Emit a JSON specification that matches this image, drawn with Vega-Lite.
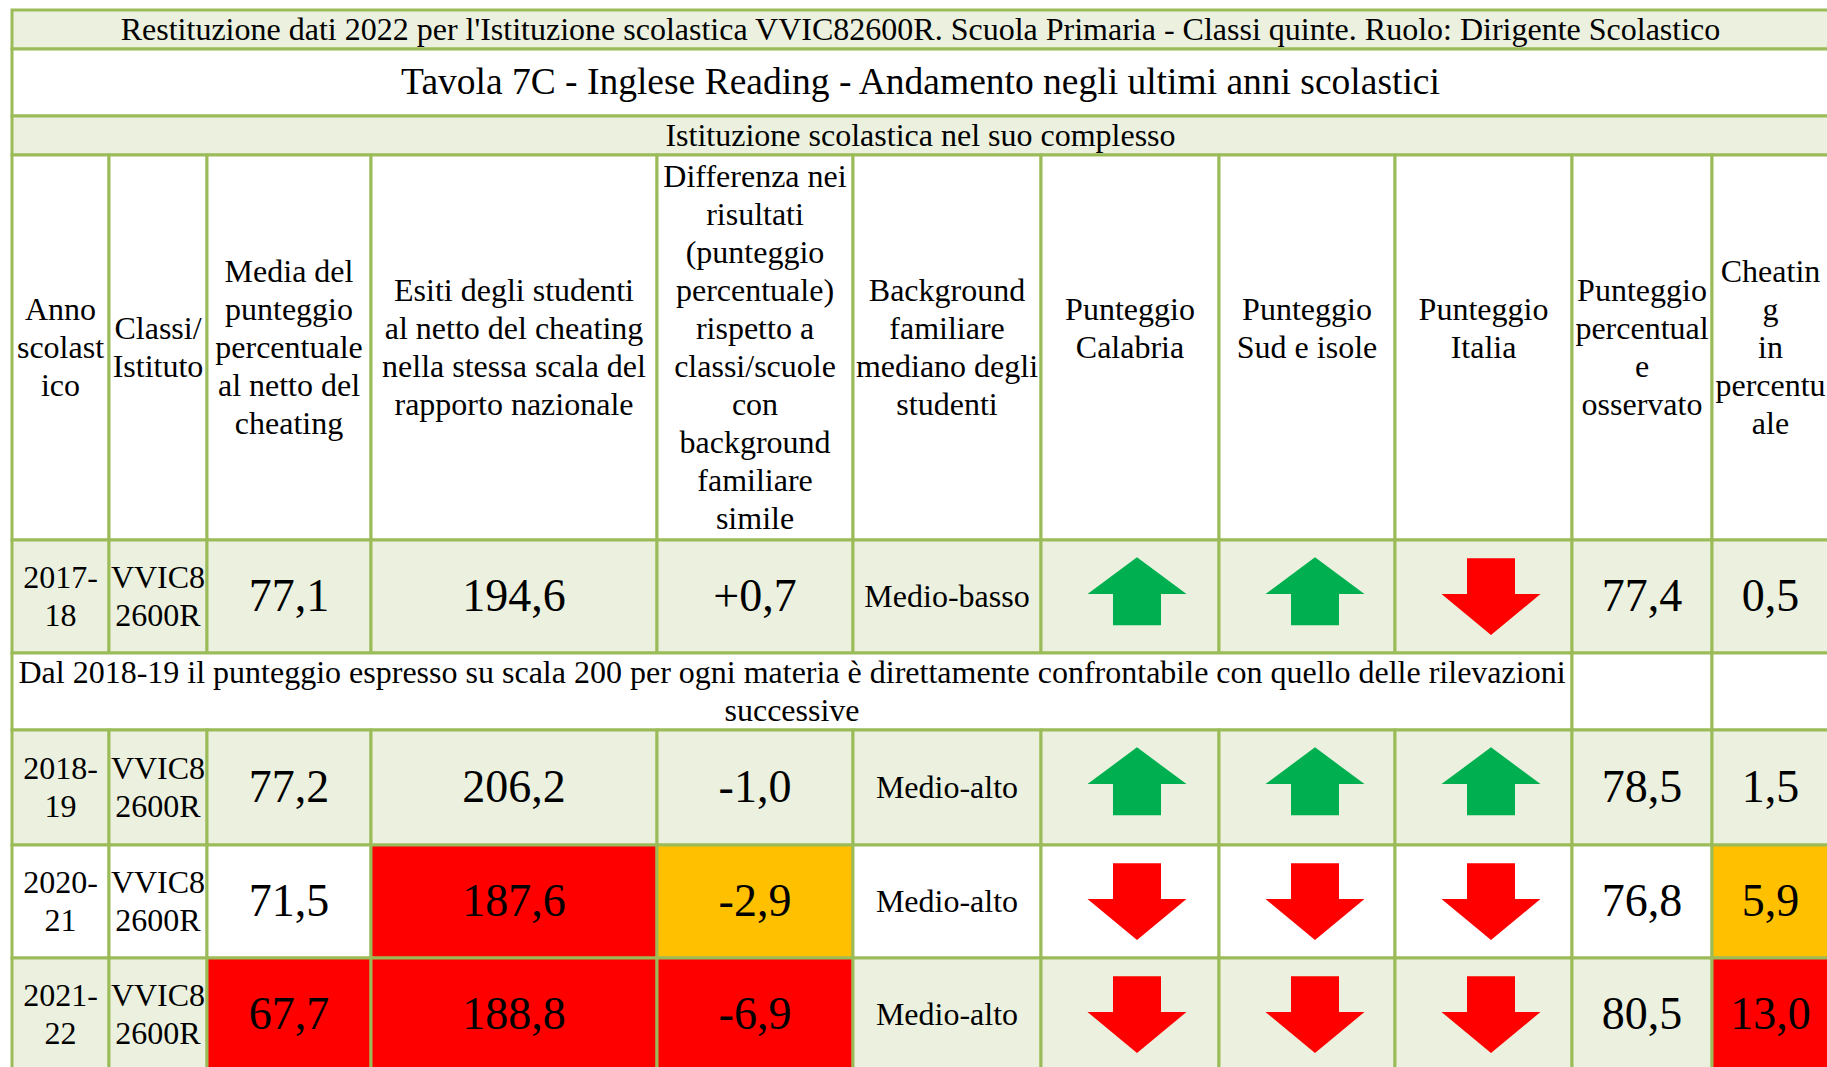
{
  "$schema": "https://vega.github.io/schema/vega-lite/v6.json",
  "width": 1827,
  "height": 1067,
  "padding": 0,
  "autosize": "none",
  "background": "white",
  "config": {"view": {"stroke": null}},
  "datasets": {
    "cells": [
      {"c0": 0, "c1": 11, "r0": 0, "r1": 1, "fill": "g", "kind": "title", "text": "Restituzione dati 2022 per l'Istituzione scolastica VVIC82600R. Scuola Primaria - Classi quinte. Ruolo: Dirigente Scolastico"},
      {"c0": 0, "c1": 11, "r0": 1, "r1": 2, "fill": "w", "kind": "tavola", "text": "Tavola 7C - Inglese Reading - Andamento negli ultimi anni scolastici"},
      {"c0": 0, "c1": 11, "r0": 2, "r1": 3, "fill": "g", "kind": "section", "text": "Istituzione scolastica nel suo complesso"},
      {"c0": 0, "c1": 1, "r0": 3, "r1": 4, "fill": "w", "kind": "header", "text": "Anno\nscolast\nico"},
      {"c0": 1, "c1": 2, "r0": 3, "r1": 4, "fill": "w", "kind": "header", "text": "Classi/\nIstituto"},
      {"c0": 2, "c1": 3, "r0": 3, "r1": 4, "fill": "w", "kind": "header", "text": "Media del\npunteggio\npercentuale\nal netto del\ncheating"},
      {"c0": 3, "c1": 4, "r0": 3, "r1": 4, "fill": "w", "kind": "header", "text": "Esiti degli studenti\nal netto del cheating\nnella stessa scala del\nrapporto nazionale"},
      {"c0": 4, "c1": 5, "r0": 3, "r1": 4, "fill": "w", "kind": "header", "text": "Differenza nei\nrisultati\n(punteggio\npercentuale)\nrispetto a\nclassi/scuole\ncon\nbackground\nfamiliare\nsimile"},
      {"c0": 5, "c1": 6, "r0": 3, "r1": 4, "fill": "w", "kind": "header", "text": "Background\nfamiliare\nmediano degli\nstudenti"},
      {"c0": 6, "c1": 7, "r0": 3, "r1": 4, "fill": "w", "kind": "header", "text": "Punteggio\nCalabria\n "},
      {"c0": 7, "c1": 8, "r0": 3, "r1": 4, "fill": "w", "kind": "header", "text": "Punteggio\nSud e isole\n "},
      {"c0": 8, "c1": 9, "r0": 3, "r1": 4, "fill": "w", "kind": "header", "text": "Punteggio\nItalia\n "},
      {"c0": 9, "c1": 10, "r0": 3, "r1": 4, "fill": "w", "kind": "header", "text": "Punteggio\npercentual\ne\nosservato"},
      {"c0": 10, "c1": 11, "r0": 3, "r1": 4, "fill": "w", "kind": "header", "text": "Cheatin\ng\nin\npercentu\nale"},

      {"c0": 0, "c1": 1, "r0": 4, "r1": 5, "fill": "g", "kind": "label", "text": "2017-\n18"},
      {"c0": 1, "c1": 2, "r0": 4, "r1": 5, "fill": "g", "kind": "label", "text": "VVIC8\n2600R"},
      {"c0": 2, "c1": 3, "r0": 4, "r1": 5, "fill": "g", "kind": "value", "text": "77,1"},
      {"c0": 3, "c1": 4, "r0": 4, "r1": 5, "fill": "g", "kind": "value", "text": "194,6"},
      {"c0": 4, "c1": 5, "r0": 4, "r1": 5, "fill": "g", "kind": "value", "text": "+0,7"},
      {"c0": 5, "c1": 6, "r0": 4, "r1": 5, "fill": "g", "kind": "label", "text": "Medio-basso"},
      {"c0": 6, "c1": 7, "r0": 4, "r1": 5, "fill": "g", "arrow": "up"},
      {"c0": 7, "c1": 8, "r0": 4, "r1": 5, "fill": "g", "arrow": "up"},
      {"c0": 8, "c1": 9, "r0": 4, "r1": 5, "fill": "g", "arrow": "down"},
      {"c0": 9, "c1": 10, "r0": 4, "r1": 5, "fill": "g", "kind": "value", "text": "77,4"},
      {"c0": 10, "c1": 11, "r0": 4, "r1": 5, "fill": "g", "kind": "value", "text": "0,5"},

      {"c0": 0, "c1": 9, "r0": 5, "r1": 6, "fill": "w", "kind": "label", "text": "Dal 2018-19 il punteggio espresso su scala 200 per ogni materia è direttamente confrontabile con quello delle rilevazioni\nsuccessive"},
      {"c0": 9, "c1": 10, "r0": 5, "r1": 6, "fill": "w"},
      {"c0": 10, "c1": 11, "r0": 5, "r1": 6, "fill": "w"},

      {"c0": 0, "c1": 1, "r0": 6, "r1": 7, "fill": "g", "kind": "label", "text": "2018-\n19"},
      {"c0": 1, "c1": 2, "r0": 6, "r1": 7, "fill": "g", "kind": "label", "text": "VVIC8\n2600R"},
      {"c0": 2, "c1": 3, "r0": 6, "r1": 7, "fill": "g", "kind": "value", "text": "77,2"},
      {"c0": 3, "c1": 4, "r0": 6, "r1": 7, "fill": "g", "kind": "value", "text": "206,2"},
      {"c0": 4, "c1": 5, "r0": 6, "r1": 7, "fill": "g", "kind": "value", "text": "-1,0"},
      {"c0": 5, "c1": 6, "r0": 6, "r1": 7, "fill": "g", "kind": "label", "text": "Medio-alto"},
      {"c0": 6, "c1": 7, "r0": 6, "r1": 7, "fill": "g", "arrow": "up"},
      {"c0": 7, "c1": 8, "r0": 6, "r1": 7, "fill": "g", "arrow": "up"},
      {"c0": 8, "c1": 9, "r0": 6, "r1": 7, "fill": "g", "arrow": "up"},
      {"c0": 9, "c1": 10, "r0": 6, "r1": 7, "fill": "g", "kind": "value", "text": "78,5"},
      {"c0": 10, "c1": 11, "r0": 6, "r1": 7, "fill": "g", "kind": "value", "text": "1,5"},

      {"c0": 0, "c1": 1, "r0": 7, "r1": 8, "fill": "w", "kind": "label", "text": "2020-\n21"},
      {"c0": 1, "c1": 2, "r0": 7, "r1": 8, "fill": "w", "kind": "label", "text": "VVIC8\n2600R"},
      {"c0": 2, "c1": 3, "r0": 7, "r1": 8, "fill": "w", "kind": "value", "text": "71,5"},
      {"c0": 3, "c1": 4, "r0": 7, "r1": 8, "fill": "r", "kind": "value", "text": "187,6"},
      {"c0": 4, "c1": 5, "r0": 7, "r1": 8, "fill": "o", "kind": "value", "text": "-2,9"},
      {"c0": 5, "c1": 6, "r0": 7, "r1": 8, "fill": "w", "kind": "label", "text": "Medio-alto"},
      {"c0": 6, "c1": 7, "r0": 7, "r1": 8, "fill": "w", "arrow": "down"},
      {"c0": 7, "c1": 8, "r0": 7, "r1": 8, "fill": "w", "arrow": "down"},
      {"c0": 8, "c1": 9, "r0": 7, "r1": 8, "fill": "w", "arrow": "down"},
      {"c0": 9, "c1": 10, "r0": 7, "r1": 8, "fill": "w", "kind": "value", "text": "76,8"},
      {"c0": 10, "c1": 11, "r0": 7, "r1": 8, "fill": "o", "kind": "value", "text": "5,9"},

      {"c0": 0, "c1": 1, "r0": 8, "r1": 9, "fill": "g", "kind": "label", "text": "2021-\n22"},
      {"c0": 1, "c1": 2, "r0": 8, "r1": 9, "fill": "g", "kind": "label", "text": "VVIC8\n2600R"},
      {"c0": 2, "c1": 3, "r0": 8, "r1": 9, "fill": "r", "kind": "value", "text": "67,7"},
      {"c0": 3, "c1": 4, "r0": 8, "r1": 9, "fill": "r", "kind": "value", "text": "188,8"},
      {"c0": 4, "c1": 5, "r0": 8, "r1": 9, "fill": "r", "kind": "value", "text": "-6,9"},
      {"c0": 5, "c1": 6, "r0": 8, "r1": 9, "fill": "g", "kind": "label", "text": "Medio-alto"},
      {"c0": 6, "c1": 7, "r0": 8, "r1": 9, "fill": "g", "arrow": "down"},
      {"c0": 7, "c1": 8, "r0": 8, "r1": 9, "fill": "g", "arrow": "down"},
      {"c0": 8, "c1": 9, "r0": 8, "r1": 9, "fill": "g", "arrow": "down"},
      {"c0": 9, "c1": 10, "r0": 8, "r1": 9, "fill": "g", "kind": "value", "text": "80,5"},
      {"c0": 10, "c1": 11, "r0": 8, "r1": 9, "fill": "r", "kind": "value", "text": "13,0"}
    ]
  },
  "data": {"name": "cells"},
  "layer": [
    {
      "mark": {"type": "rect", "stroke": "#9BBB59", "strokeWidth": 3},
      "encoding": {
        "x": {"field": "c0", "type": "quantitative", "axis": null,
              "scale": {"domain": [0,1,2,3,4,5,6,7,8,9,10,11], "range": [12,109,207,371,657,853,1041,1219,1395,1572,1712,1829], "nice": false, "zero": false}},
        "x2": {"field": "c1"},
        "y": {"field": "r0", "type": "quantitative", "axis": null,
              "scale": {"domain": [0,1,2,3,4,5,6,7,8,9], "range": [10,49,116,155,540,653,730,845,958,1072], "nice": false, "zero": false}},
        "y2": {"field": "r1"},
        "fill": {"field": "fill", "type": "nominal", "legend": null,
                 "scale": {"domain": ["g","w","r","o","up","down"], "range": ["#EBF1DE","#FFFFFF","#FF0000","#FFC000","#00B050","#FF0000"]}}
      }
    },
    {
      "transform": [{"filter": "datum.text != null && datum.kind != 'tavola' && datum.kind != 'value'"}],
      "mark": {"type": "text", "font": "Liberation Serif", "fontSize": 32, "baseline": "middle", "align": "center", "lineBreak": "\n", "lineHeight": 38, "color": "#000000",
               "x": {"expr": "(scale('x', datum.c0) + scale('x', datum.c1)) / 2"},
               "y": {"expr": "(scale('y', datum.r0) + scale('y', datum.r1)) / 2 - (length(split(datum.text, '\\n')) - 1) * 19"}},
      "encoding": {
        "text": {"field": "text"}
      }
    },
    {
      "transform": [{"filter": "datum.kind == 'tavola'"}],
      "mark": {"type": "text", "font": "Liberation Serif", "fontSize": 37.5, "baseline": "middle", "align": "center", "color": "#000000",
               "x": {"expr": "(scale('x', datum.c0) + scale('x', datum.c1)) / 2"},
               "y": {"expr": "(scale('y', datum.r0) + scale('y', datum.r1)) / 2"}},
      "encoding": {
        "text": {"field": "text"}
      }
    },
    {
      "transform": [{"filter": "datum.kind == 'value'"}],
      "mark": {"type": "text", "font": "Liberation Serif", "fontSize": 46, "baseline": "middle", "align": "center", "color": "#000000",
               "x": {"expr": "(scale('x', datum.c0) + scale('x', datum.c1)) / 2"},
               "y": {"expr": "(scale('y', datum.r0) + scale('y', datum.r1)) / 2"}},
      "encoding": {
        "text": {"field": "text"}
      }
    },
    {
      "transform": [{"filter": "datum.arrow != null"}],
      "mark": {"type": "point", "filled": true, "opacity": 1, "size": 9800, "strokeWidth": 0, "xOffset": 96, "yOffset": 53},
      "encoding": {
        "x": {"field": "c0", "type": "quantitative"},
        "y": {"field": "r0", "type": "quantitative"},
        "shape": {"field": "arrow", "type": "nominal", "legend": null,
                  "scale": {"domain": ["up","down"], "range": ["M0,-0.72L1,0.02L0.485,0.02L0.485,0.65L-0.485,0.65L-0.485,0.02L-1,0.02Z", "M-0.485,-0.7L0.485,-0.7L0.485,0.02L1,0.02L0,0.85L-1,0.02L-0.485,0.02Z"]}},
        "fill": {"field": "arrow", "type": "nominal", "legend": null}
      }
    }
  ]
}
